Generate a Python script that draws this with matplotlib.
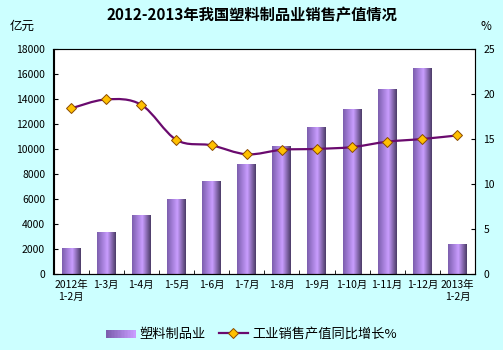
import numpy as np
import matplotlib.pyplot as plt
from matplotlib.colors import LinearSegmentedColormap
from matplotlib.patches import Rectangle, PathPatch
from matplotlib.path import Path
from matplotlib.lines import Line2D
from matplotlib.legend_handler import HandlerBase

plt.rcParams['font.family'] = ['Noto Sans CJK SC', 'DejaVu Sans']

# data
categories = ['2012年\n1-2月', '1-3月', '1-4月', '1-5月', '1-6月', '1-7月', '1-8月',
              '1-9月', '1-10月', '1-11月', '1-12月', '2013年\n1-2月']
sales = [2100, 3390, 4750, 6030, 7470, 8830, 10270, 11790, 13230, 14830, 16510, 2430]
growth = [18.4, 19.4, 18.8, 14.9, 14.3, 13.3, 13.8, 13.9, 14.1, 14.7, 15.0, 15.4]

bg = '#CCFFFF'
bar_cmap = LinearSegmentedColormap.from_list(
    'cyl', [(0, '#7C5EAE'), (0.55, '#C99DFF'), (1, '#4C3C68')])
line_col = '#6A0A6E'

fig = plt.figure(figsize=(5.03, 3.5), dpi=100, facecolor=bg)
ax = fig.add_axes([53.5 / 503, 1 - 274 / 350, 421.5 / 503, 225 / 350])
ax.set_facecolor('white')
x = np.arange(len(categories))
bw = 0.54

grad = np.linspace(0, 1, 64).reshape(1, -1)
for xi, v in zip(x, sales):
    im = ax.imshow(grad, cmap=bar_cmap, aspect='auto',
                   extent=(xi - bw / 2, xi + bw / 2, 0, v), zorder=2)
    clip = Rectangle((xi - bw / 2, 0), bw, v, transform=ax.transData,
                     facecolor='none', edgecolor='none')
    ax.add_patch(clip)
    im.set_clip_path(clip)
ax.set_xlim(-0.5, len(categories) - 0.5)
ax.set_ylim(0, 18000)
ax.set_yticks(np.arange(0, 18001, 2000))
ax.set_xticks(x)
ax.set_xticklabels(categories, fontsize=7.5, linespacing=1.3)
ax.set_xticks(np.arange(-0.5, len(categories), 1), minor=True)
ax.tick_params(axis='x', which='major', length=0, pad=4)
ax.tick_params(axis='x', which='minor', length=3, direction='in')
ax.tick_params(axis='y', length=3, direction='in', labelsize=7.5, pad=6)
for s in ax.spines.values():
    s.set_color('#808080')
    s.set_linewidth(0.8)
ax.spines['left'].set_color('black')
ax.spines['bottom'].set_color('black')

ax2 = ax.twinx()
ax2.set_ylim(0, 25)
ax2.set_yticks(np.arange(0, 26, 5))
ax2.tick_params(axis='y', length=3, direction='in', labelsize=7.5, pad=6)
ax2.spines['right'].set_color('black')

# smooth line through the points (Catmull-Rom as cubic Bezier segments)
pts = np.column_stack([x, growth]).astype(float)
verts = [pts[0]]
codes = [Path.MOVETO]
for i in range(len(pts) - 1):
    p0 = pts[i - 1] if i > 0 else pts[i]
    p1, p2 = pts[i], pts[i + 1]
    p3 = pts[i + 2] if i + 2 < len(pts) else pts[i + 1]
    c1 = p1 + (p2 - p0) / 6
    c2 = p2 - (p3 - p1) / 6
    verts += [c1, c2, p2]
    codes += [Path.CURVE4] * 3
ax2.add_patch(PathPatch(Path(verts, codes), facecolor='none', edgecolor=line_col,
                        linewidth=1.6, zorder=3))
ax2.plot(x, growth, linestyle='none', marker='D', markersize=5,
         markerfacecolor='#FFC000', markeredgecolor='#8A4A00', markeredgewidth=0.7,
         zorder=4)

fig.text(0.5, 1 - 15 / 350, '2012-2013年我国塑料制品业销售产值情况', ha='center',
         va='center', fontsize=11, fontweight='bold')
fig.text(22 / 503, 1 - 26 / 350, '亿元', ha='center', va='center', fontsize=9)
fig.text(486 / 503, 1 - 27 / 350, '%', ha='center', va='center', fontsize=8.5)


class GradHandler(HandlerBase):
    def create_artists(self, legend, orig, xd, yd, w, h, fontsize, trans):
        arts = []
        n = 20
        for k in range(n):
            arts.append(Rectangle((xd + w * k / n, yd), w / n + 0.3, h,
                                  facecolor=bar_cmap(0.55 * k / (n - 1)),
                                  edgecolor='none', transform=trans))
        return arts


bar_handle = Rectangle((0, 0), 1, 1)
line_handle = Line2D([], [], color=line_col, linewidth=1.6, marker='D', markersize=5,
                     markerfacecolor='#FFC000', markeredgecolor='#8A4A00',
                     markeredgewidth=0.7)
fig.legend([bar_handle, line_handle], ['塑料制品业', '工业销售产值同比增长%'],
           handler_map={bar_handle: GradHandler()},
           loc='center', bbox_to_anchor=(0.5, 1 - 334 / 350), ncol=2, frameon=False,
           fontsize=9.5, handlelength=2.2, handleheight=0.6, handletextpad=0.3,
           columnspacing=1.0)

fig.savefig('out.png', dpi=100, facecolor=bg)
